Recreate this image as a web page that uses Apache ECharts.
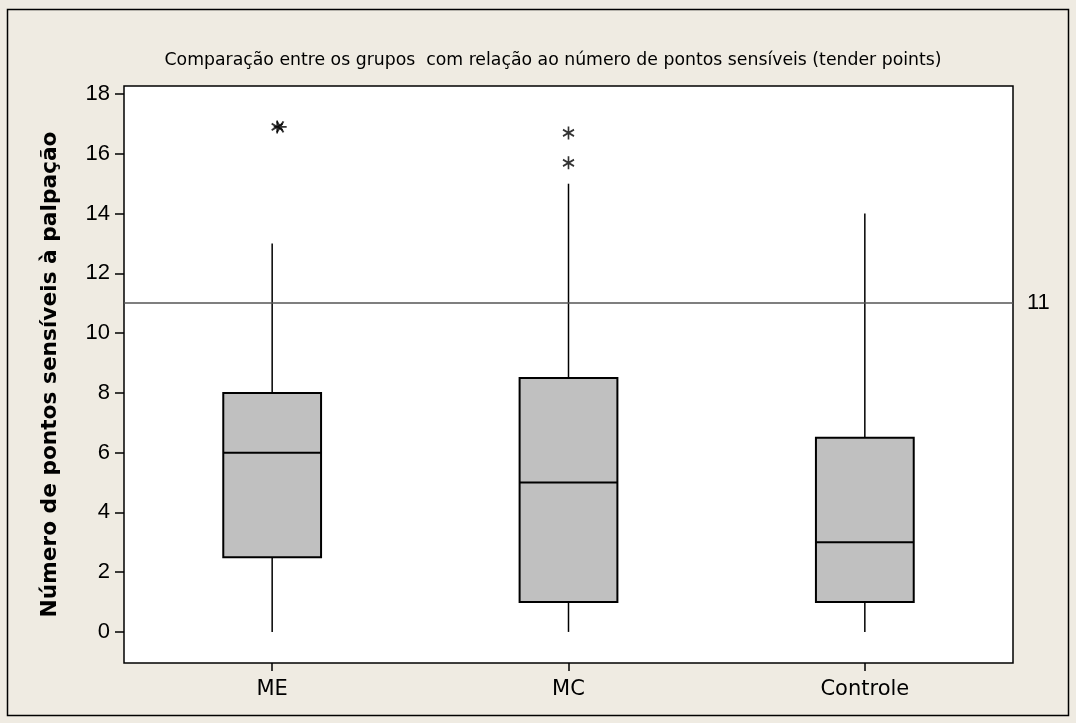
<!DOCTYPE html>
<html>
<head>
<meta charset="utf-8">
<script src="https://cdn.jsdelivr.net/npm/echarts@6/dist/echarts.min.js"></script>
<style>
  html, body { margin: 0; padding: 0; background: #EFEBE2; }
  #chart { width: 1076px; height: 723px; }
</style>
</head>
<body>
<div id="chart"></div>
<script>
// Groups compared
const categories = ['ME', 'MC', 'Controle'];
// Box summaries per group: [lower whisker, Q1, median, Q3, upper whisker]
const whiskerLow = [0, 0, 0];
const q1 = [2.5, 1, 1];
const medians = [6, 5, 3];
const q3 = [8, 8.5, 6.5];
const whiskerHigh = [13, 15, 14];
// Outliers: [group index, value]
const outliers = [[0, 16.9], [0, 16.9], [1, 16.7], [1, 15.7]];
// Tick values on the y axis and the reference cut-off
const yTicks = [0, 2, 4, 6, 8, 10, 12, 14, 16, 18];
const cutoff = 11;

const boxData = categories.map((c, i) => [i, whiskerLow[i], q1[i], medians[i], q3[i], whiskerHigh[i]]);

const asterisk = 'path://M0,-10L0,10M-8.66,-5L8.66,5M-8.66,5L8.66,-5';

const chart = echarts.init(document.getElementById('chart'), null, { renderer: 'canvas' });

chart.setOption({
  backgroundColor: '#EFEBE2',
  animation: false,
  title: {
    text: 'Comparação entre os grupos  com relação ao número de pontos sensíveis (tender points)',
    left: 548,
    textAlign: 'center',
    top: 47,
    textStyle: { fontFamily: 'DejaVu Sans', fontSize: 17.3, fontWeight: 'normal', color: '#000' }
  },
  graphic: [{
    type: 'rect',
    shape: { x: 7.5, y: 9.5, width: 1061, height: 706 },
    style: { fill: 'none', stroke: '#000', lineWidth: 1.5 },
    silent: true,
    z: -1
  }],
  grid: {
    left: 124, top: 86, right: 63, bottom: 60,
    show: true,
    backgroundColor: '#fff',
    borderColor: '#000',
    borderWidth: 1.5
  },
  xAxis: {
    type: 'category',
    data: categories,
    boundaryGap: true,
    axisLine: { show: false, onZero: false },
    axisTick: { show: true, alignWithLabel: true, length: 8, lineStyle: { color: '#000', width: 1.5 } },
    axisLabel: { fontFamily: 'DejaVu Sans', fontSize: 21, color: '#000', margin: 16 },
    splitLine: { show: false }
  },
  yAxis: {
    type: 'value',
    min: -1.04,
    max: 18.27,
    name: 'Número de pontos sensíveis à palpação',
    nameLocation: 'middle',
    nameGap: 63,
    nameRotate: 90,
    nameTextStyle: { fontFamily: 'DejaVu Sans', fontSize: 21.7, fontWeight: 'bold', color: '#000' },
    axisLine: { show: false },
    axisTick: { show: true, length: 9, customValues: yTicks, lineStyle: { color: '#000', width: 1.5 } },
    axisLabel: { fontFamily: 'Liberation Sans', fontSize: 22, color: '#000', margin: 14, customValues: yTicks },
    splitLine: { show: false }
  },
  series: [
    {
      type: 'custom',
      data: boxData,
      encode: { x: 0, y: [1, 2, 3, 4, 5] },
      renderItem: function (params, api) {
        const idx = api.value(0);
        const half = api.size([1, 0])[0] * 0.33 / 2;
        const pLow = api.coord([idx, api.value(1)]);
        const pQ1 = api.coord([idx, api.value(2)]);
        const pMed = api.coord([idx, api.value(3)]);
        const pQ3 = api.coord([idx, api.value(4)]);
        const pHigh = api.coord([idx, api.value(5)]);
        const cx = pLow[0];
        const line = { stroke: '#000', lineWidth: 1.5 };
        return {
          type: 'group',
          children: [
            { type: 'line', shape: { x1: cx, y1: pLow[1], x2: cx, y2: pQ1[1] }, style: line },
            { type: 'line', shape: { x1: cx, y1: pQ3[1], x2: cx, y2: pHigh[1] }, style: line },
            { type: 'rect', shape: { x: cx - half, y: pQ3[1], width: 2 * half, height: pQ1[1] - pQ3[1] },
              style: { fill: '#C0C0C0', stroke: '#000', lineWidth: 2 } },
            { type: 'line', shape: { x1: cx - half, y1: pMed[1], x2: cx + half, y2: pMed[1] }, style: { stroke: '#000', lineWidth: 2 } }
          ]
        };
      },
      markLine: {
        silent: true,
        symbol: 'none',
        lineStyle: { color: '#555', width: 1.5, type: 'solid' },
        label: { show: true, position: 'end', formatter: String(cutoff), fontFamily: 'Liberation Sans', fontSize: 22, color: '#000', distance: 14 },
        data: [{ yAxis: cutoff }]
      },
      z: 2
    },
    {
      type: 'scatter',
      data: outliers.map((o, k) => ({
        value: o,
        symbolOffset: k === 0 ? [5, 0] : (k === 1 ? [8, 0] : [0, 0]),
        symbolRotate: k === 1 ? 90 : 0
      })),
      symbol: asterisk,
      symbolSize: [11, 13],
      itemStyle: { color: 'transparent', borderColor: '#000', borderWidth: 1.8 },
      z: 3
    }
  ]
});
</script>
</body>
</html>
